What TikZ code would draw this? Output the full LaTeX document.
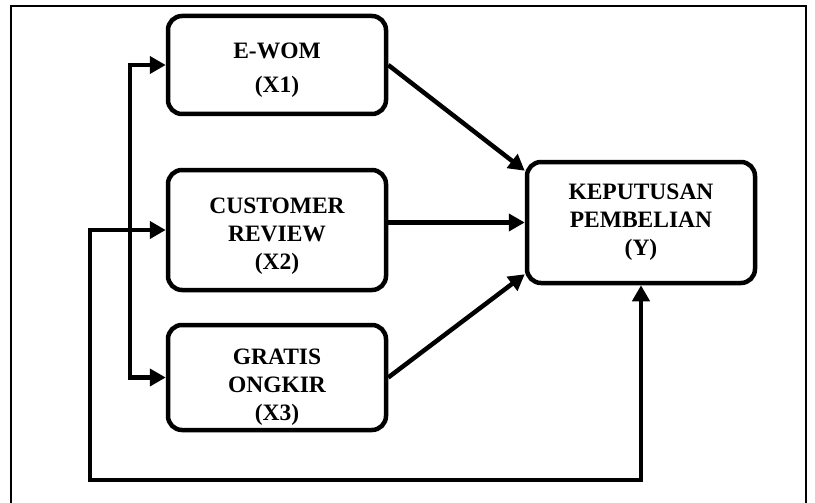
\documentclass[tikz,border=0pt]{standalone}
\usepackage{fontspec}
\setmainfont{Liberation Serif}
\usetikzlibrary{arrows.meta,positioning}
\tikzstyle{varbox}=[rectangle,draw,line width=4.5pt,rounded corners=14pt,fill=white,align=center,
  font=\fontsize{23.5pt}{28pt}\selectfont\bfseries,inner sep=0pt]
\tikzstyle{panah}=[line width=4.5pt,-{Triangle[length=16pt,width=17pt]}]
\tikzstyle{point}=[coordinate]

\begin{document}
\begin{tikzpicture}[x=1pt,y=-1pt]
  \useasboundingbox (0,0) rectangle (815,503);
  % bingkai luar
  \draw[line width=2pt] (11,503) -- (11,6) -- (806,6) -- (806,503);
  % variabel X
  \node[varbox,minimum width=218pt,minimum height=98pt] (ewom) at (277,65){\rule{0pt}{25.5pt}E-WOM\\[6pt](X1)};
  \node[varbox,minimum width=218pt,minimum height=120pt,below of=ewom,node distance=165pt] (review){\rule{0pt}{27.5pt}CUSTOMER\\REVIEW\\(X2)};
  \node[varbox,minimum width=218pt,minimum height=105pt,below of=review,node distance=147.5pt] (ongkir){\rule{0pt}{35.5pt}GRATIS\\ONGKIR\\(X3)};
  % variabel Y
  \node[varbox,minimum width=228pt,minimum height=121pt] (keputusan) at (641,222.5){KEPUTUSAN\\PEMBELIAN\\(Y)};
  \node[point] (split) at (130,230){};
  \node[point] (loopL) at (90,480){};
  \draw[panah] (ewom.east)--(keputusan.156);
  \draw[panah] (review.east |- keputusan.west)--(keputusan.west);
  \draw[panah] (ongkir.east)--(keputusan.204);
  \draw[panah] (split) |- (ewom.west);
  \draw[panah] (split) |- (ongkir.west);
  \draw[panah,{Triangle[length=16pt,width=17pt]}-{Triangle[length=16pt,width=17pt]}] (review.west) -| (loopL) -| (keputusan.south);
\end{tikzpicture}
\end{document}
